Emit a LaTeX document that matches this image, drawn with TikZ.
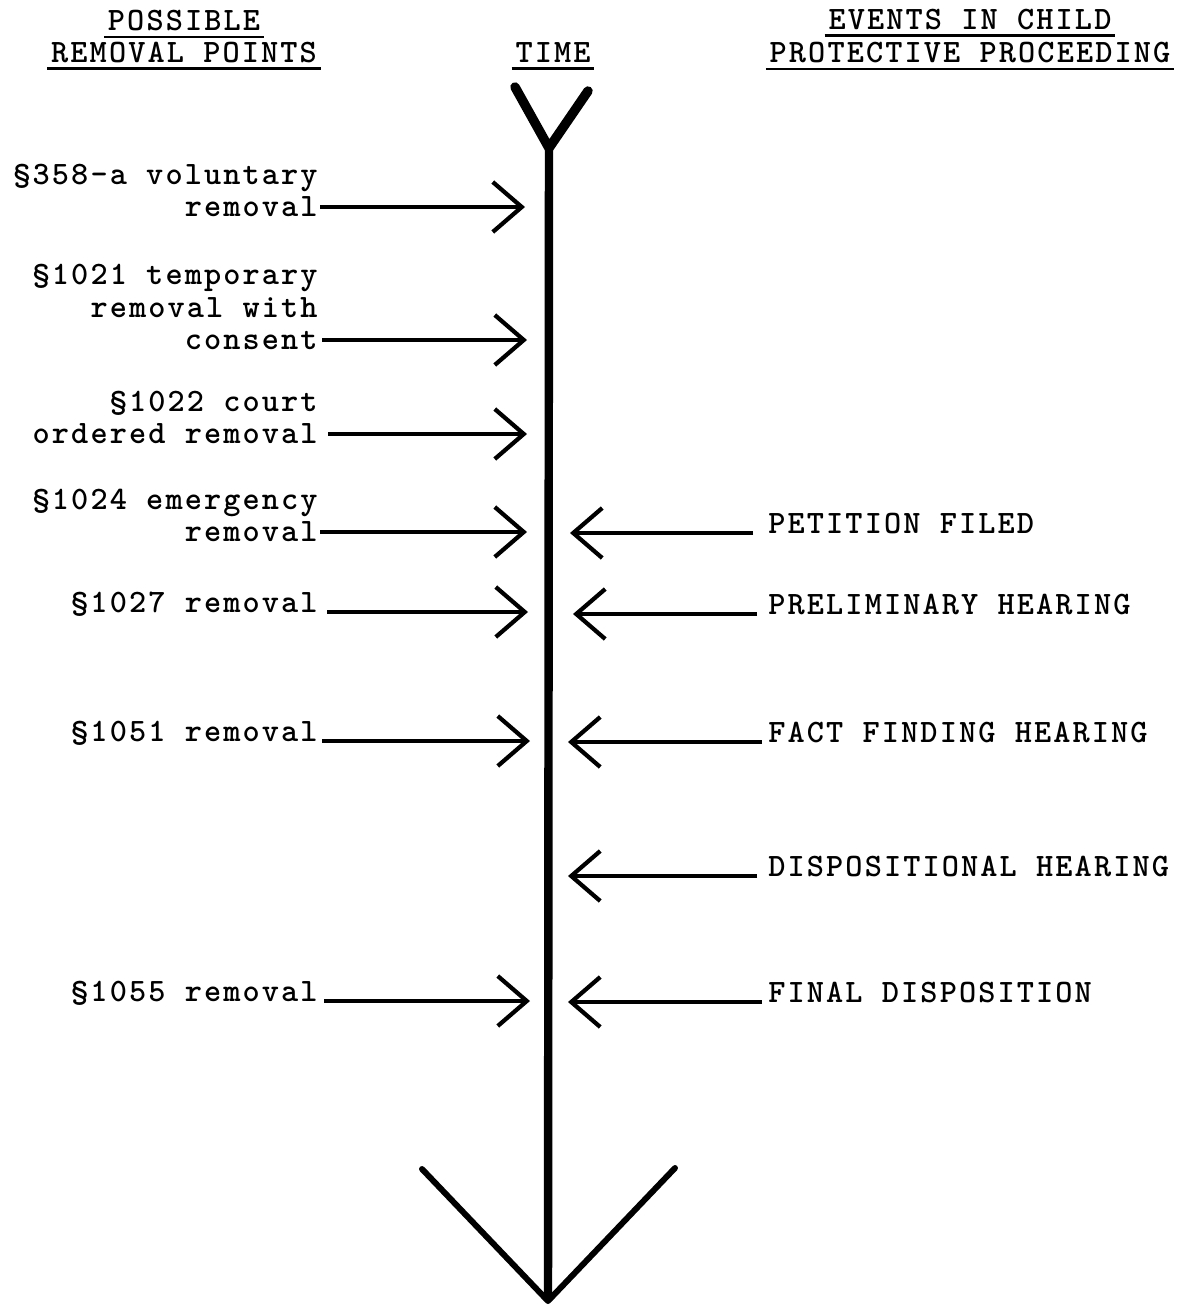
\documentclass[tikz,border=0pt]{standalone}
\usepackage{fontspec}
\usetikzlibrary{arrows.meta}

\newfontfamily\typefont{lmmonolt10-bold}[Extension=.otf, LetterSpace=6.5]
\newcommand{\typewriter}{\fontsize{18.6}{18.5}\selectfont\typefont}

\begin{document}
\begin{tikzpicture}[
  x=0.02cm, y=-0.02cm,
  every node/.style={inner sep=0pt, font=\typewriter},
  heading/.style={anchor=base},
  removal/.style={anchor=base east, align=right},
  event/.style={anchor=base west},
  uline/.style={line width=1.4pt, shorten <=-2pt, shorten >=-2pt},
  axis/.style={line width=4.8pt},
  fork/.style={line width=#1, line cap=round, line join=round},
  fwd/.style={line width=1.8pt,
              -{Straight Barb[length=0.58cm, width=1.0cm, line width=2.4pt]}}
]
\useasboundingbox (0,0) rectangle (1179,1306);

% Headings
\node[heading] (possA) at (184,30)  {POSSIBLE};
\node[heading] (possB) at (184,62)  {REMOVAL POINTS};
\node[heading] (timeH) at (553,62)  {TIME};
\node[heading] (evA)   at (970,29)  {EVENTS IN CHILD};
\node[heading] (evB)   at (970,62)  {PROTECTIVE PROCEEDING};

\draw[uline] ([yshift=-0.14cm]possA.base west) -- ([yshift=-0.14cm]possA.base east);
\draw[uline] ([yshift=-0.13cm]possB.base west) -- ([yshift=-0.13cm]possB.base east);
\draw[uline] ([yshift=-0.13cm]timeH.base west) -- ([yshift=-0.13cm]timeH.base east);
\draw[uline] ([yshift=-0.13cm]evA.base west)   -- ([yshift=-0.13cm]evA.base east);
\draw[uline] ([yshift=-0.14cm]evB.base west)   -- ([yshift=-0.14cm]evB.base east);

% Time line
\coordinate (ttop) at (549,148);
\coordinate (tbot) at (548,1301);
\draw[axis] (ttop) -- (tbot);
\draw[fork=5.4pt] (515,87) -- (ttop) -- (588,91);
\draw[fork=3.4pt] (422,1169) -- (tbot) -- (675,1168);

% Removal points (multi-line nodes sit a strut below the last line)
\node[removal] (l1) at (318,216.7) {§358-a voluntary\\removal};
\node[removal] (l2) at (318,349.7) {§1021 temporary\\removal with\\consent};
\node[removal] (l3) at (318,443.7) {§1022 court\\ordered removal};
\node[removal] (l4) at (318,541.7) {§1024 emergency\\removal};
\node[removal] (l5) at (318,612)   {§1027 removal};
\node[removal] (l6) at (318,741)   {§1051 removal};
\node[removal] (l7) at (318,1001)  {§1055 removal};

\coordinate (s1) at (320,207);   \coordinate (a1) at (525,207);
\coordinate (s2) at (322,340);   \coordinate (a2) at (527,340);
\coordinate (s3) at (328,434);   \coordinate (a3) at (527,434);
\coordinate (s4) at (320,532);   \coordinate (a4) at (527,532);
\coordinate (s5) at (327,612);   \coordinate (a5) at (528,612);
\coordinate (s6) at (322,741);   \coordinate (a6) at (530,741);
\coordinate (s7) at (324,1001);  \coordinate (a7) at (530,1001);

\draw[fwd] (s1) -- (a1);
\draw[fwd] (s2) -- (a2);
\draw[fwd] (s3) -- (a3);
\draw[fwd] (s4) -- (a4);
\draw[fwd] (s5) -- (a5);
\draw[fwd] (s6) -- (a6);
\draw[fwd] (s7) -- (a7);

% Events in the proceeding
\node[event] (r1) at (768,533)  {PETITION FILED};
\node[event] (r2) at (768,614)  {PRELIMINARY HEARING};
\node[event] (r3) at (768,742)  {FACT FINDING HEARING};
\node[event] (r4) at (768,876)  {DISPOSITIONAL HEARING};
\node[event] (r5) at (768,1002) {FINAL DISPOSITION};

\coordinate (b1) at (570,533);
\coordinate (b2) at (573,614);
\coordinate (b3) at (568,742);
\coordinate (b4) at (568,876);
\coordinate (b5) at (568,1002);

\draw[fwd, shorten <=0.3cm] (r1.base west) -- (b1);
\draw[fwd, shorten <=0.22cm] (r2.base west) -- (b2);
\draw[fwd, shorten <=0.12cm] (r3.base west) -- (b3);
\draw[fwd, shorten <=0.22cm] (r4.base west) -- (b4);
\draw[fwd, shorten <=0.12cm] (r5.base west) -- (b5);

\end{tikzpicture}
\end{document}
